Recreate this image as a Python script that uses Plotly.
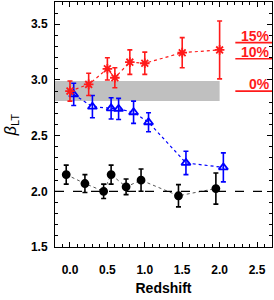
import plotly.graph_objects as go

# data
red_z = [0.0, 0.25, 0.5, 0.6, 0.8, 1.0, 1.5, 2.0]
red_b = [2.90, 2.96, 3.10, 3.02, 3.16, 3.15, 3.245, 3.27]
red_e = [0.09, 0.10, 0.10, 0.09, 0.11, 0.10, 0.135, 0.26]

blue_z = [0.05, 0.30, 0.55, 0.65, 0.85, 1.05, 1.55, 2.05]
blue_b = [2.87, 2.76, 2.745, 2.74, 2.71, 2.62, 2.255, 2.215]
blue_e = [0.10, 0.10, 0.095, 0.095, 0.10, 0.085, 0.105, 0.13]

black_z = [-0.05, 0.20, 0.45, 0.55, 0.75, 0.95, 1.45, 1.95]
black_b = [2.15, 2.07, 2.00, 2.15, 2.04, 2.10, 1.96, 2.025]
black_e = [0.085, 0.08, 0.065, 0.085, 0.07, 0.10, 0.10, 0.14]

band_y = [2.81, 2.99]
band_x = [-0.2, 2.0]
pct_labels = ["15%", "10%", "0%"]
pct_levels = [3.335, 3.19, 2.90]
ref_level = 2.0

FONT = "Liberation Sans, Arial, Helvetica, sans-serif"
RED = "#ff1a1a"
BLUE = "#0000ff"

fig = go.Figure()

# gray band
fig.add_shape(type="rect", x0=band_x[0], x1=band_x[1], y0=band_y[0], y1=band_y[1],
              fillcolor="#c0c0c0", line=dict(width=0), layer="below")
# dashed reference
fig.add_shape(type="line", xref="paper", x0=0, x1=1, y0=ref_level, y1=ref_level,
              line=dict(color="black", width=1.3, dash="dash"))

def series(x, y, e, color, symbol, size, lw, lcolor=None):
    fig.add_trace(go.Scatter(
        x=x, y=y, mode="lines+markers",
        line=dict(color=lcolor or color, width=lw, dash="dot"),
        marker=dict(symbol=symbol, size=size, color=color,
                    line=dict(color=color, width=1.8)),
        error_y=dict(type="data", array=e, color=color, thickness=1.6, width=2.5),
        showlegend=False))

series(black_z, black_b, black_e, "black", "circle", 7, 1.0, "#555555")
series(blue_z, blue_b, blue_e, BLUE, "triangle-up-open", 8, 1.2)
series(red_z, red_b, red_e, RED, "asterisk-open", 8, 1.2)

# percentage markers
for lab, lev in zip(pct_labels, pct_levels):
    fig.add_shape(type="line", x0=2.21, x1=2.7, y0=lev, y1=lev,
                  line=dict(color=RED, width=1.6))
    fig.add_annotation(x=2.7, y=lev, text=lab, showarrow=False,
                       xanchor="right", yanchor="bottom", yshift=-3,
                       font=dict(family=FONT, size=14, color=RED, weight="bold"))

axis_common = dict(
    showgrid=False, zeroline=False, showline=True, linecolor="black", linewidth=1,
    mirror="allticks", ticks="inside", ticklen=5, tickcolor="black", tickwidth=1,
    automargin=False,
    tickfont=dict(family=FONT, size=12, color="black", weight="bold"),
    minor=dict(ticks="inside", ticklen=3, tickcolor="black", dtick=0.1, showgrid=False),
)

fig.update_xaxes(range=[-0.2, 2.7], dtick=0.5, tick0=0, tickformat=".1f",
                 ticklabelstandoff=12,
                 title=dict(text="Redshift", standoff=6,
                            font=dict(family=FONT, size=14, color="black", weight="bold")),
                 **axis_common)
fig.update_yaxes(range=[1.5, 3.7], dtick=0.5, tick0=0, tickformat=".1f",
                 ticklabelstandoff=4,
                 title=dict(text="<i>β</i><sub>LT</sub>", standoff=10,
                            font=dict(family=FONT, size=16, color="black")),
                 **axis_common)

fig.update_layout(width=274, height=300, margin=dict(l=55, r=2, t=2, b=53),
                  paper_bgcolor="white", plot_bgcolor="white")

fig.write_html("out.html", config={"displayModeBar": False},
               post_script="document.body.style.margin='0';document.body.style.padding='0';")
